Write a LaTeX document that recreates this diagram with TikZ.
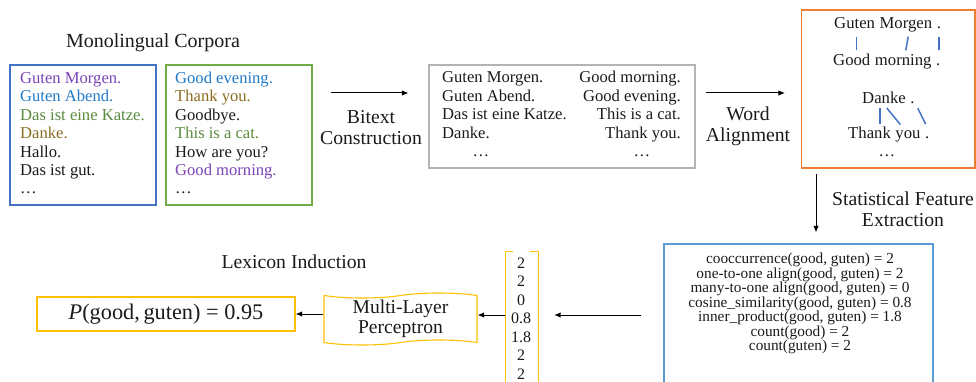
\documentclass[tikz,border=0pt]{standalone}
\usepackage{fontspec}
\setmainfont{Liberation Serif}
\usetikzlibrary{arrows.meta,shapes.symbols}
\newcommand{\fsz}[2]{\fontsize{#1}{#2}\selectfont}
\definecolor{cPurple}{HTML}{7B43B5}
\definecolor{cBlue}{HTML}{2079C7}
\definecolor{cGreen}{HTML}{5A8A3E}
\definecolor{cBrown}{HTML}{8B6D22}
\definecolor{cBlueBox}{HTML}{4472C4}
\definecolor{cGreenBox}{HTML}{70AD47}
\definecolor{cGrayBox}{HTML}{B4B4B4}
\definecolor{cOrange}{HTML}{ED7D31}
\definecolor{cGold}{HTML}{FFC000}
\definecolor{cLightBlue}{HTML}{5B9BD5}
\definecolor{cText}{HTML}{1A1A1A}
\begin{document}
\begin{tikzpicture}[x=1pt,y=-1pt, text=cText,
  box/.style={draw, line width=1.1pt, inner sep=0pt},
  arr/.style={-{Latex[length=6.5pt,width=5.5pt]}, line width=1pt},
  txt/.style={anchor=base west, inner sep=0pt, font=\fsz{16.6}{18}},
  txtr/.style={anchor=base east, inner sep=0pt, font=\fsz{16.6}{18}},
  lbl/.style={inner sep=0pt, font=\fsz{19.7}{21}, align=center},
  wd/.style={anchor=base west, inner sep=0pt, font=\fsz{16.7}{18}, text height=11.5pt, text depth=3.5pt},
  aln/.style={draw=cBlueBox, line width=1.5pt}]
\useasboundingbox (0,0) rectangle (976,382);
\clip (0,0) rectangle (976,382);

% ---- monolingual corpora
\node[lbl, font=\fsz{20}{21}] (tMono) at (153,43) {Monolingual Corpora};
\node[box, draw=cBlueBox, minimum width=146pt, minimum height=140pt] (mono1) at (83,135) {};
\node[box, draw=cGreenBox, minimum width=146pt, minimum height=140pt] (mono2) at (239,135) {};
\foreach \t/\c [count=\i] in {Guten Morgen./cPurple, Guten Abend./cBlue, Das ist eine Katze./cGreen, Danke./cBrown, Hallo./cText, Das ist gut./cText, \dots/cText}
  \node[txt, text=\c] (la\i) at (20,{83.5+18.4*(\i-1)}) {\t};
\foreach \t/\c [count=\i] in {Good evening./cBlue, Thank you./cBrown, Goodbye./cText, This is a cat./cGreen, How are you?/cText, Good morning./cPurple, \dots/cText}
  \node[txt, text=\c] (lb\i) at (175,{83.5+18.4*(\i-1)}) {\t};

% ---- bitext
\node[box, draw=cGrayBox, minimum width=266pt, minimum height=103pt] (gray) at (562,116.5) {};
\foreach \t [count=\i] in {Guten Morgen., Guten Abend., Das ist eine Katze., Danke.}
  \node[txt] (ga\i) at (442,{82.5+18.6*(\i-1)}) {\t};
\foreach \t [count=\i] in {Good morning., Good evening., This is a cat., Thank you.}
  \node[txtr] (gb\i) at (681,{82.5+18.6*(\i-1)}) {\t};
\node[txt, anchor=base] (gadots) at (481,157) {\dots};
\node[txt, anchor=base] (gbdots) at (642,157) {\dots};

\node[lbl] (tBitext) at (371,127.5) {Bitext\\Construction};
\draw[arr] ([shift={(18pt,42pt)}]mono2.east) -- ([shift={(-20pt,23.5pt)}]gray.west);

% ---- word alignment
\node[box, draw=cOrange, minimum width=173.5pt, minimum height=158pt] (orange) at (888.25,89) {};
\node[wd] (gm1) at (834,28.5) {Guten};
\node[wd] (gm2) at ([xshift=4.2pt]gm1.base east) {Morgen};
\node[wd] (gm3) at ([xshift=4.2pt]gm2.base east) {.};
\node[wd] (gd1) at (833,65.5) {Good};
\node[wd] (gd2) at ([xshift=4.2pt]gd1.base east) {morning};
\node[wd] (gd3) at ([xshift=4.2pt]gd2.base east) {.};
\node[wd] (dk1) at (862,104) {Danke};
\node[wd] (dk2) at ([xshift=4.2pt]dk1.base east) {.};
\node[wd] (th1) at (848,139) {Thank};
\node[wd] (th2) at ([xshift=4.2pt]th1.base east) {you};
\node[wd] (th3) at ([xshift=4.2pt]th2.base east) {.};
\node[txt, anchor=base] (odots) at (887,157) {\dots};
\draw[aln, shorten <=4.5pt, shorten >=3.5pt] ([xshift=2pt]gm1.south) -- ([xshift=2pt]gm1.south |- gd1.north);
\draw[aln, shorten <=4.5pt, shorten >=3.5pt] ([xshift=3pt]gm2.south) -- ([xshift=2pt]gd2.north);
\draw[aln, shorten <=4.5pt, shorten >=3.5pt] (gm3.south) -- (gm3.south |- gd3.north);
\draw[aln, shorten <=0.5pt, shorten >=3.5pt] ([xshift=-4pt]dk1.south) -- ([xshift=-4pt]dk1.south |- th1.north);
\draw[aln, shorten <=0.5pt, shorten >=3.5pt] ([xshift=2.5pt]dk1.south) -- ([xshift=-5.4pt]th2.north);
\draw[aln, shorten <=0.5pt, shorten >=3.5pt] ([xshift=5pt]dk2.south) -- (th3.north);

\node[lbl] (tAlign) at (748,126.5) {Word\\Alignment};
\draw[arr] ([shift={(10pt,23.5pt)}]gray.east) -- ([shift={(-16pt,-4pt)}]orange.west);

% ---- features
\node[box, draw=cLightBlue, minimum width=269pt, minimum height=148pt] (feat) at (798.5,318) {};
\node[inner sep=0pt, align=center, font={\fsz{15.3}{14.5}\lineskiplimit=-100pt}] (ftxt) at (800,303.4)
  {cooccurrence(good, guten) = 2\\
   one-to-one align(good, guten) = 2\\
   many-to-one align(good, guten) = 0\\
   cosine\_similarity(good, guten) = 0.8\\
   inner\_product(good, guten) = 1.8\\
   count(good) = 2\\
   count(guten) = 2};
\node[lbl] (tFeat) at (903,209.5) {Statistical Feature\\Extraction};
\draw[arr] ([shift={(-72.25pt,-5pt)}]orange.south) -- ([shift={(17.5pt,11pt)}]feat.north);

% ---- vector
\node[inner sep=0pt, minimum width=32.5pt, minimum height=140pt] (vec) at (521.75,322) {};
\draw[cGold, line width=1.1pt] ([xshift=8pt]vec.north west) -- (vec.north west) -- (vec.south west);
\draw[cGold, line width=1.1pt] ([xshift=-8pt]vec.north east) -- (vec.north east) -- (vec.south east);
\node[inner sep=0pt, align=center, font=\fsz{16}{18.5}] (vnum) at (521,318.5) {2\\2\\0\\0.8\\1.8\\2\\2};
\draw[arr] ([shift={(-22pt,3pt)}]feat.west) -- ([shift={(16pt,7pt)}]vec.east);

% ---- lexicon induction
\node[lbl] (tLex) at (294,262) {Lexicon Induction};
\node[tape, draw=cGold, line width=1.1pt, minimum width=153pt, minimum height=52pt, inner sep=0pt,
      tape bend height=5pt, align=center, font=\fsz{19.6}{20}] (mlp) at (400.5,319) {Multi-Layer\\Perceptron};
\draw[arr] ([yshift=7pt]vec.west) -- ([yshift=4pt]mlp.east);
\node[box, draw=cGold, minimum width=258pt, minimum height=34pt, font=\fsz{22.3}{24}] (pbox) at (166,314)
  {\textit{P}(good,\,guten) = 0.95};
\draw[arr] (mlp.west |- pbox.east) -- (pbox.east);
\end{tikzpicture}
\end{document}
